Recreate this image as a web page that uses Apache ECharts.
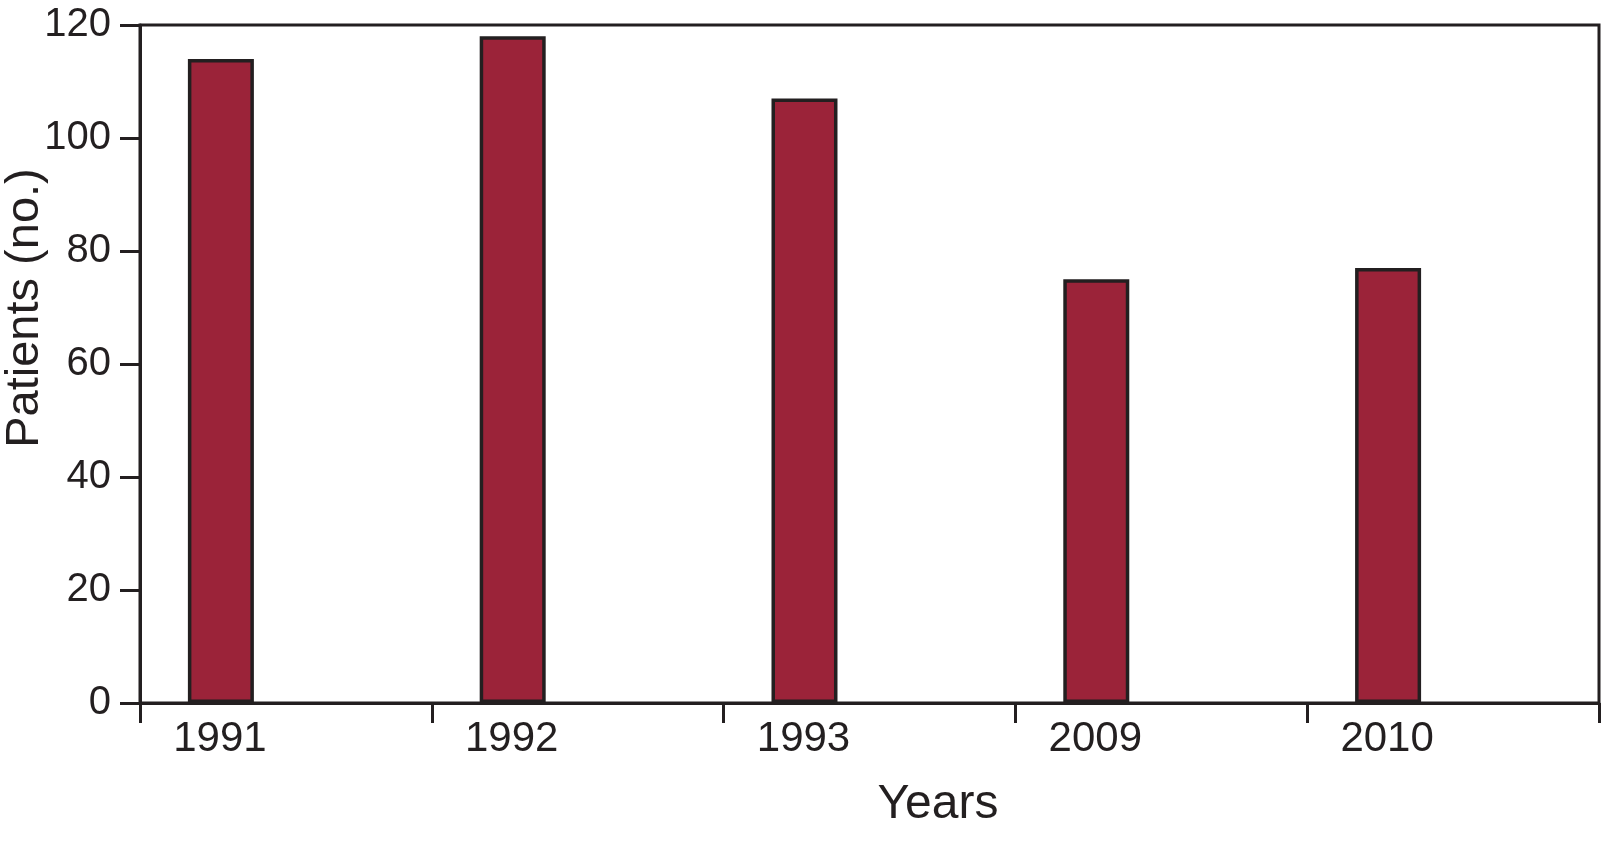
<!DOCTYPE html>
<html>
<head>
<meta charset="utf-8">
<script src="https://cdn.jsdelivr.net/npm/echarts@6/dist/echarts.min.js"></script>
<style>
html,body{margin:0;padding:0;background:#fff;}
#chart{width:1602px;height:846px;}
</style>
</head>
<body>
<div id="chart"></div>
<script>
const categories = ['1991', '1992', '1993', '2009', '2010'];
const patients = [114, 118, 107, 75, 77];
const spacer = [null, null, null, null, null];
const yTicks = [0, 20, 40, 60, 80, 100, 120];
const xTitle = 'Years';
const yTitle = 'Patients (no.)';

const ink = '#231f20';
const font = '"Liberation Sans", Arial, Helvetica, sans-serif';

const chart = echarts.init(document.getElementById('chart'), null, {renderer: 'canvas'});
chart.setOption({
  animation: false,
  backgroundColor: '#ffffff',
  grid: {
    left: 140, right: 3, top: 25, bottom: 143,
    show: true, borderColor: ink, borderWidth: 3, backgroundColor: 'transparent'
  },
  xAxis: {
    type: 'category',
    data: categories,
    boundaryGap: true,
    axisLine: {lineStyle: {color: ink, width: 3}},
    axisTick: {show: true, length: 20, lineStyle: {color: ink, width: 3}},
    axisLabel: {
      color: ink, fontSize: 42, fontFamily: font, margin: 15,
      padding: [0, 132, 0, 0]
    },
    splitLine: {show: false}
  },
  yAxis: {
    type: 'value',
    min: yTicks[0], max: yTicks[yTicks.length - 1], interval: 20,
    axisLine: {show: true, lineStyle: {color: ink, width: 3}},
    axisTick: {show: true, length: 20, lineStyle: {color: ink, width: 3}},
    axisLabel: {color: ink, fontSize: 40, fontFamily: font, margin: 29},
    splitLine: {show: false}
  },
  series: [
    {
      type: 'bar',
      name: 'Patients',
      data: patients,
      barWidth: 66,
      barGap: '97%',
      itemStyle: {color: '#9b2339', borderColor: ink, borderWidth: 3.5}
    },
    {
      type: 'bar',
      name: 'spacer',
      data: spacer,
      barWidth: 66,
      itemStyle: {color: 'transparent'}
    }
  ],
  graphic: [
    {
      type: 'text', x: 938, y: 805,
      style: {text: xTitle, font: '48px ' + font, fill: ink, textAlign: 'center', textVerticalAlign: 'middle'}
    },
    {
      type: 'text', x: 25, y: 308, rotation: Math.PI / 2,
      style: {text: yTitle, font: '47px ' + font, fill: ink, textAlign: 'center', textVerticalAlign: 'middle'}
    }
  ]
});
</script>
</body>
</html>
